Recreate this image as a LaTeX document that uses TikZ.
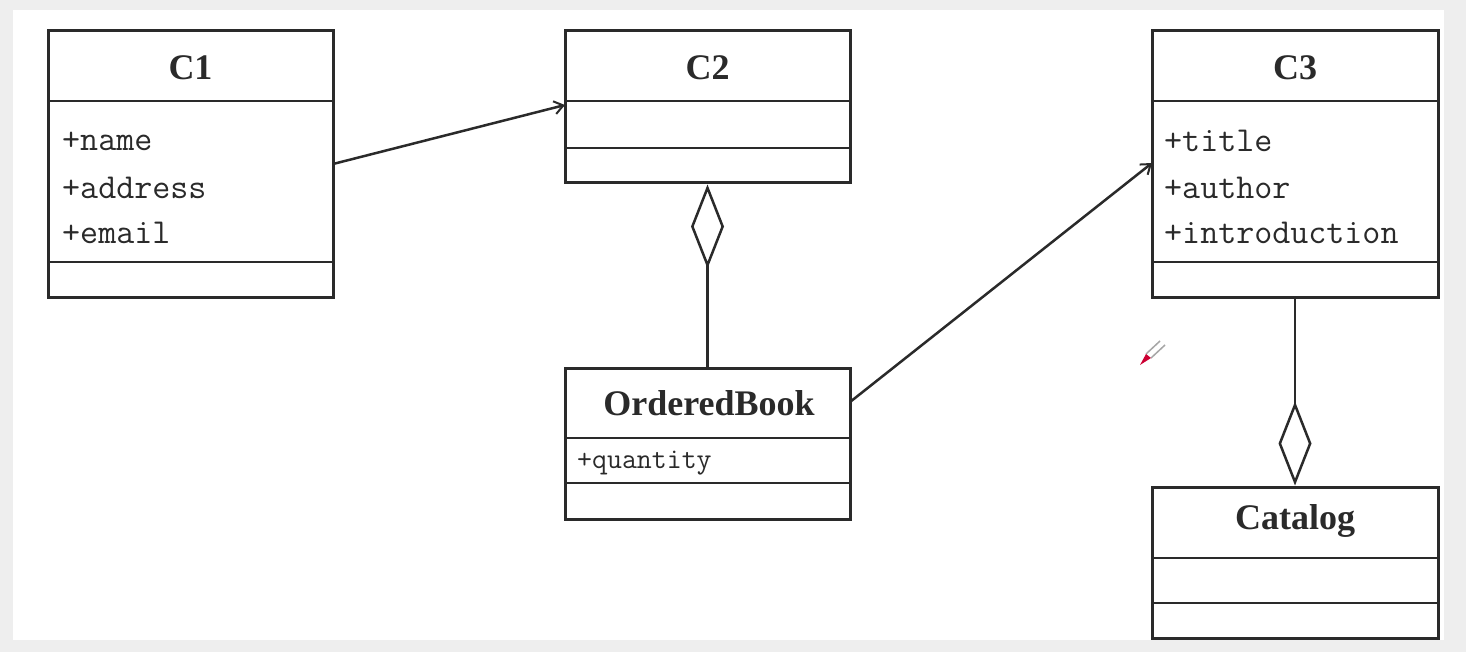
\documentclass[tikz,border=0pt]{standalone}
\usepackage{fontspec}
\setmainfont{Liberation Serif}
\usetikzlibrary{arrows.meta}
\definecolor{frame}{HTML}{EEEEEE}
\definecolor{ink}{HTML}{2A2A2A}
\begin{document}
\begin{tikzpicture}[x=1pt,y=-1pt,
  box/.style={draw=ink,line width=3pt},
  sep/.style={draw=ink,line width=2.6pt},
  ttl/.style={font=\fontsize{36}{40}\selectfont\bfseries,text=ink,inner sep=0pt},
  attr/.style={font=\fontsize{35}{40}\selectfont\ttfamily,text=ink,anchor=west,inner sep=0pt},
  sattr/.style={font=\fontsize{29}{33}\selectfont\ttfamily,text=ink,anchor=west,inner sep=0pt},
  assoc/.style={draw=ink,line width=2.5pt,-{Straight Barb[length=9pt,width=13pt,line width=2pt]}},
  aggr/.style={draw=ink,line width=2.5pt,{Diamond[open,length=84pt,width=33pt,line width=2.5pt]}-}
]
\useasboundingbox (0,0) rectangle (1466,652);
\fill[frame] (0,0) rectangle (1466,652);
\fill[white] (13,10) rectangle (1444,640);

% C1
\node[box,minimum width=285pt,minimum height=266pt,inner sep=0pt] (c1) at (190.5,164) {};
\draw[sep] (48,101) -- (333,101);
\draw[sep] (48,262) -- (333,262);
\node[ttl] (c1t) at (190.5,68) {C1};
\node[attr] (c1a) at (62,141) {+name};
\node[attr] (c1b) at (62,188) {+address};
\node[attr] (c1c) at (62,233) {+email};

% C2
\node[box,minimum width=285pt,minimum height=152pt,inner sep=0pt] (c2) at (707.5,107) {};
\draw[sep] (565,101) -- (850,101);
\draw[sep] (565,148) -- (850,148);
\node[ttl] (c2t) at (707.5,68) {C2};

% C3
\node[box,minimum width=286pt,minimum height=266pt,inner sep=0pt] (c3) at (1295,164) {};
\draw[sep] (1152,101) -- (1438,101);
\draw[sep] (1152,262) -- (1438,262);
\node[ttl] (c3t) at (1295,68) {C3};
\node[attr] (c3a) at (1164,141) {+title};
\node[attr] (c3b) at (1164,188) {+author};
\node[attr] (c3c) at (1164,233) {+introduction};

% OrderedBook
\node[box,minimum width=285pt,minimum height=151pt,inner sep=0pt] (ob) at (707.5,443.5) {};
\draw[sep] (565,438) -- (850,438);
\draw[sep] (565,483) -- (850,483);
\node[ttl] (obt) at (709,403) {OrderedBook};
\node[sattr] (oba) at (577,463) {+quantity};

% Catalog
\node[box,minimum width=286pt,minimum height=151pt,inner sep=0pt] (cat) at (1295,562.5) {};
\draw[sep] (1152,558) -- (1438,558);
\draw[sep] (1152,603) -- (1438,603);
\node[ttl] (catt) at (1295,521) {Catalog};

% connectors
\coordinate (c1r) at (333,164);
\coordinate (c2l) at (565,105);
\draw[assoc] (c1r) -- (c2l);
\coordinate (obr) at (850,402);
\coordinate (c3l) at (1152,163);
\draw[assoc] (obr) -- (c3l);
\draw[aggr] (c2.south) -- (ob.north);
\draw[aggr] (cat.north) -- (c3.south);

% pen cursor
\draw[gray!70,line width=1.5pt] (1146,354) -- (1160,341) (1151,358) -- (1165,345);
\fill[purple!80!red] (1140,365) -- (1146,354) -- (1151,358) -- cycle;
\end{tikzpicture}
\end{document}
